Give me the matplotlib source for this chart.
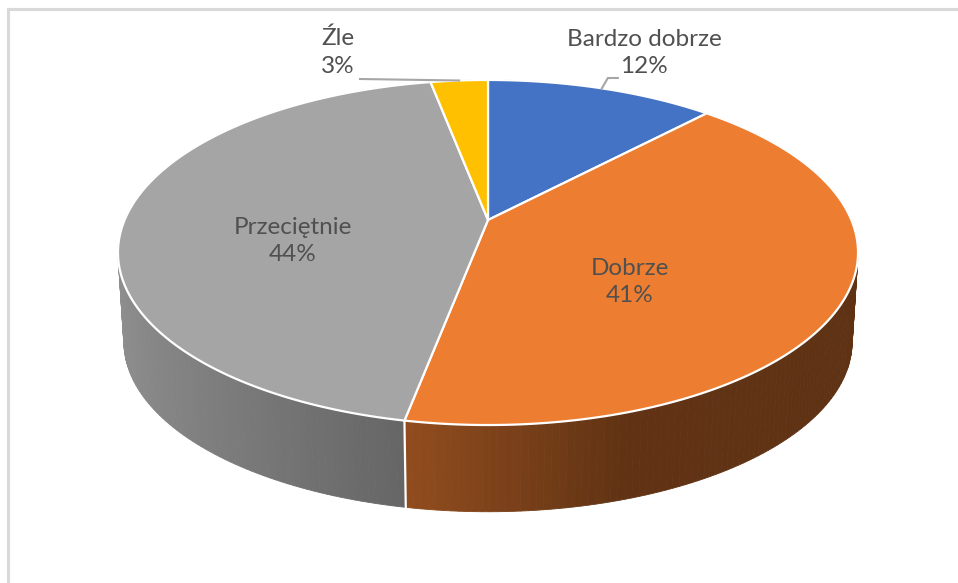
import numpy as np
import matplotlib
matplotlib.use('Agg')
import matplotlib.pyplot as plt
from matplotlib.patches import Polygon

plt.rcParams['font.family'] = ['Lato', 'DejaVu Sans']

# == DATA ==
categories = ['Bardzo dobrze', 'Dobrze', 'Przeciętnie', 'Źle']
values = [12, 41, 44, 3]
colors = ['#4472C4', '#ED7D31', '#A5A5A5', '#FFC000']

# label block centres (pixels)
label_pos = [(644, 53), (630, 282), (293, 241), (338, 52)]

# == 3D PIE GEOMETRY (pixel space, perspective) ==
cx, cy = 488, 220          # projected centre of the top face
A, B, k = 363.4, 166.4, 0.1884
s_bot, dy_bot = 0.984, 90  # bottom face: a bit smaller and lower


def proj(theta, bottom=False):
    # theta in degrees, clockwise from 12 o'clock
    t = np.radians(theta)
    u, v = np.sin(t), np.cos(t)
    d = 1 + k * v
    if bottom:
        return cx + s_bot * A * u / d, cy + dy_bot - s_bot * B * v / d
    return cx + A * u / d, cy - B * v / d


def side_shade(u):
    return np.interp(u, [-1, -0.2, 0.3, 1], [0.87, 0.62, 0.41, 0.40])


fracs = np.array(values) / sum(values)
bounds = np.concatenate([[0], np.cumsum(fracs)]) * 360

fig = plt.figure(figsize=(9.58, 5.83), dpi=100)
ax = fig.add_axes([0, 0, 1, 1])
ax.set_xlim(0, 958)
ax.set_ylim(583, 0)
ax.axis('off')

# chart frame (only top & left edges inside the picture)
ax.plot([8, 958], [9, 9], color='#d9d9d9', lw=2.2, zorder=0)
ax.plot([8, 8], [9, 583], color='#d9d9d9', lw=2.2, zorder=0)

# == SIDES ==
segs = []
for i in range(len(values)):
    a0, a1 = bounds[i], bounds[i + 1]
    n = max(int(a1 - a0), 2)
    th = np.linspace(a0, a1, n + 1)
    for j in range(n):
        ta, tb = th[j], th[j + 1]
        tm = 0.5 * (ta + tb)
        segs.append((np.cos(np.radians(tm)), i, ta, tb, tm))

segs.sort(key=lambda s: -s[0])  # far to near
for depth, i, ta, tb, tm in segs:
    xa, ya = proj(ta)
    xb, yb = proj(tb)
    xbb, ybb = proj(tb, True)
    xab, yab = proj(ta, True)
    shade = side_shade(np.sin(np.radians(tm)))
    c = np.array(matplotlib.colors.to_rgb(colors[i])) * shade
    ax.add_patch(Polygon([(xa, ya), (xb, yb), (xbb, ybb), (xab, yab)],
                         closed=True, facecolor=c, edgecolor=c, lw=0.6, zorder=1))

# white edges on the side where slices meet (front only)
for b in bounds[:-1]:
    if np.cos(np.radians(b)) < 0:
        x0, y0 = proj(b)
        x1, y1 = proj(b, True)
        ax.plot([x0, x1], [y0, y1], color='white', lw=1.6, zorder=2)

# == TOP FACES ==
for i in range(len(values)):
    th = np.linspace(bounds[i], bounds[i + 1], 200)
    pts = [(cx, cy)] + [proj(t) for t in th]
    ax.add_patch(Polygon(pts, closed=True, facecolor=colors[i],
                         edgecolor='white', lw=1.6, joinstyle='round', zorder=3))

# == LABELS ==
total = sum(values)
for i, name in enumerate(categories):
    pct = round(values[i] / total * 100)
    lx, ly = label_pos[i]
    ax.text(lx, ly, f'{name}\n{pct}%', ha='center', va='center',
            fontsize=17.5, color='#505050', linespacing=1.4, zorder=5)

# leader lines (outside labels)
mid = 0.5 * (bounds[0] + bounds[1])
rx, ry = proj(mid)
lx, ly = label_pos[0]
ax.plot([rx, rx + 6, rx + 16], [ry, ly + 25, ly + 25], color='#a6a6a6', lw=1.5, zorder=4)

mid = 0.5 * (bounds[3] + bounds[4])
rx, ry = proj(mid)
lx, ly = label_pos[3]
ax.plot([rx, lx + 22], [ry, ly + 27], color='#a6a6a6', lw=1.5, zorder=4)

plt.savefig('out.png', dpi=100)
